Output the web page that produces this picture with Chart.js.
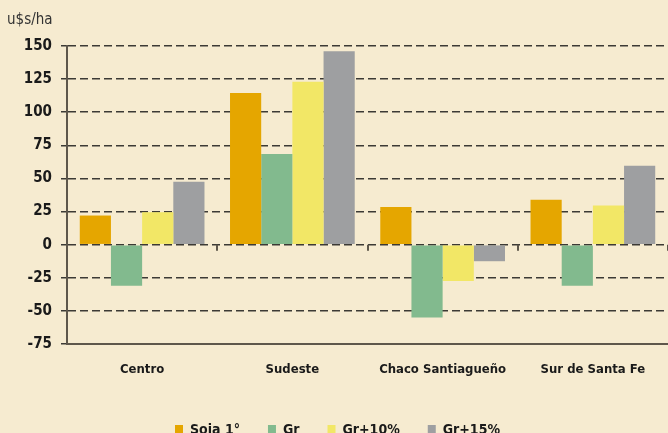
<!DOCTYPE html>
<html>
<head>
<meta charset="utf-8">
<script src="https://cdn.jsdelivr.net/npm/chart.js@4/dist/chart.umd.min.js"></script>
<style>
  html, body { margin: 0; padding: 0; background: #F6EBD0; overflow: hidden; }
  #wrap { width: 668px; height: 447px; }
</style>
</head>
<body>
<div id="wrap"><canvas id="chart" width="668" height="447"></canvas></div>
<script>
const regions = ['Centro', 'Sudeste', 'Chaco Santiagueño', 'Sur de Santa Fe'];
const soja1 = [22, 114.5, 28.5, 34];
const gr = [-31, 68.5, -55, -31];
const gr10 = [24.5, 123, -27.5, 29.5];
const gr15 = [47.5, 146, -12.5, 59.5];
const seriesNames = ['Soja 1°', 'Gr', 'Gr+10%', 'Gr+15%'];
const seriesColors = ['#E5A600', '#82BA8E', '#F2E766', '#9E9FA1'];
const yMin = -75, yMax = 150, yStep = 25;

const FONT = "'DejaVu Sans Condensed', 'Liberation Sans Narrow', sans-serif";

// tiny tick marks on the zero line between regions
const zeroTicks = {
  id: 'zeroTicks',
  afterDatasetsDraw(chart) {
    const x = chart.scales.x, y = chart.scales.y;
    const y0 = y.getPixelForValue(0);
    const ctx = chart.ctx;
    ctx.save();
    ctx.strokeStyle = '#5e574b';
    ctx.lineWidth = 2;
    for (let i = 0; i < regions.length; i++) {
      const left = x.getPixelForValue(i);
      const right = i + 1 < regions.length ? x.getPixelForValue(i + 1) : left + (left - x.getPixelForValue(i - 1));
      const xm = Math.round((left + right) / 2);
      ctx.beginPath();
      ctx.moveTo(xm, y0);
      ctx.lineTo(xm, y0 + 6);
      ctx.stroke();
    }
    ctx.restore();
  }
};

const datasets = [soja1, gr, gr10, gr15].map((d, i) => ({
  label: seriesNames[i],
  data: d,
  backgroundColor: seriesColors[i],
  borderWidth: 0,
  categoryPercentage: 0.83,
  barPercentage: 1
}));

new Chart(document.getElementById('chart').getContext('2d'), {
  type: 'bar',
  data: { labels: regions, datasets: datasets },
  plugins: [zeroTicks],
  options: {
    responsive: false,
    animation: false,
    layout: { padding: { left: 7, right: 0, top: 0, bottom: 0 } },
    plugins: {
      title: {
        display: true,
        text: 'u$s/ha',
        align: 'start',
        color: '#333',
        font: { family: FONT, size: 15, weight: 'normal' },
        padding: { top: 11, bottom: 17 }
      },
      legend: {
        position: 'bottom',
        labels: {
          color: '#1a1a1a',
          font: { family: FONT, size: 14, weight: 'bold' },
          boxWidth: 8,
          boxHeight: 10,
          padding: 28
        }
      },
      tooltip: { enabled: false }
    },
    scales: {
      x: {
        grid: { display: false },
        border: { display: true, color: '#5e574b', width: 2 },
        ticks: {
          color: '#1a1a1a',
          font: { family: FONT, size: 13, weight: 'bold' },
          padding: 10,
          maxRotation: 0,
          minRotation: 0,
          autoSkip: false
        },
        afterFit(scale) { scale.height = 51; }
      },
      y: {
        min: yMin,
        max: yMax,
        ticks: {
          stepSize: yStep,
          color: '#1a1a1a',
          font: { family: FONT, size: 15, weight: 'bold' },
          padding: 9
        },
        grid: {
          color: '#3c3a35',
          lineWidth: 1.5,
          tickLength: 6,
          tickBorderDash: [],
          tickColor: '#3c3a35'
        },
        border: { display: true, color: '#5e574b', width: 2, dash: [8, 4] },
        afterFit(scale) { scale.width = 60; }
      }
    }
  }
});
</script>
</body>
</html>
